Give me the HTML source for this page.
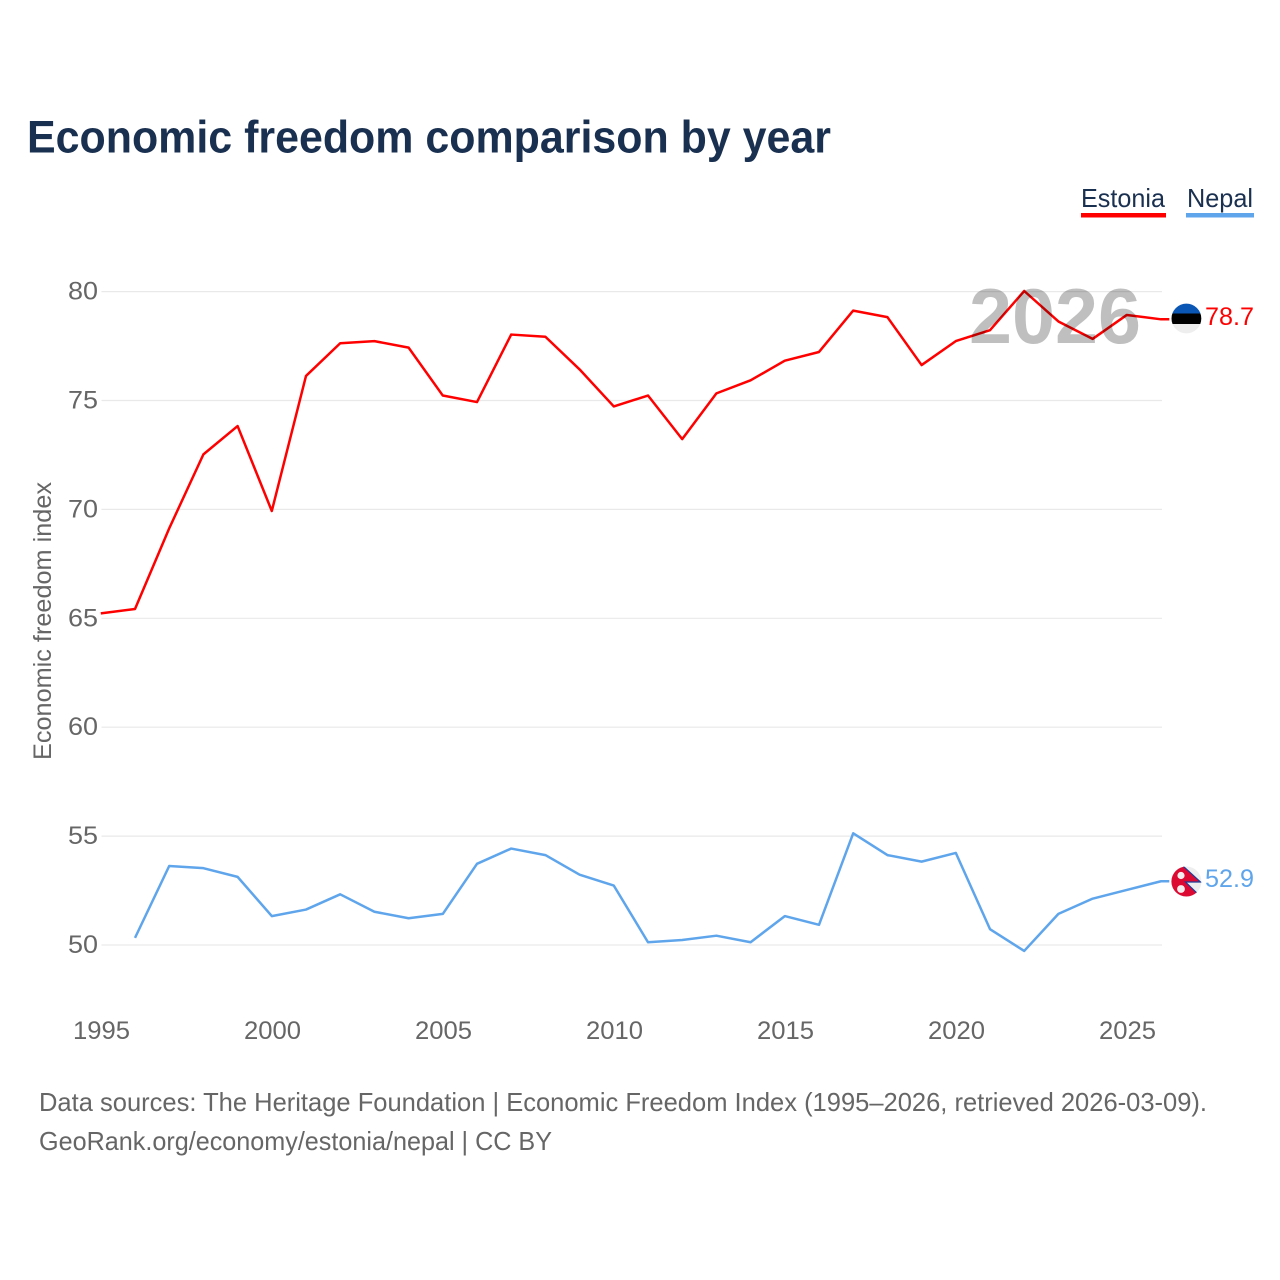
<!DOCTYPE html>
<html lang="en">
<head>
<meta charset="utf-8">
<title>Economic freedom comparison by year</title>
<style>
html,body{margin:0;padding:0;background:#fff;width:1280px;height:1280px;overflow:hidden}
svg{display:block}
text{font-family:"Liberation Sans",sans-serif}
</style>
</head>
<body>
<svg id="chart" xmlns="http://www.w3.org/2000/svg" width="1280" height="1280" viewBox="0 0 1280 1280">
  <rect width="1280" height="1280" fill="#fff"/>
  <text x="27" y="152.5" font-size="45" font-weight="700" fill="#1a3050" textLength="804" lengthAdjust="spacingAndGlyphs">Economic freedom comparison by year</text>

  <g>
    <text x="1081" y="207" font-size="26" fill="#1a3050" textLength="84" lengthAdjust="spacingAndGlyphs">Estonia</text>
    <rect x="1081" y="213" width="85" height="4.5" fill="#ff0000"/>
  </g>
  <g>
    <text x="1187" y="207" font-size="26" fill="#1a3050" textLength="66" lengthAdjust="spacingAndGlyphs">Nepal</text>
    <rect x="1186" y="213" width="68" height="4.5" fill="#5fa5ec"/>
  </g>

  <g id="grid"></g>
  <g id="yticks"></g>
  <g id="xticks"></g>
  <text transform="translate(51,621) rotate(-90)" text-anchor="middle" font-size="25" fill="#666" textLength="278" lengthAdjust="spacingAndGlyphs">Economic freedom index</text>

  <g id="series" transform="translate(-0.7,-0.6)"></g>

  <text x="969" y="343" font-size="78" font-weight="700" fill="#000" fill-opacity="0.25" textLength="172" lengthAdjust="spacingAndGlyphs">2026</text>

  <defs>
    <clipPath id="clip-ee"><circle cx="1186.4" cy="318.5" r="14.9"/></clipPath>
    <clipPath id="clip-np"><circle cx="1186.4" cy="881.5" r="15"/></clipPath>
  </defs>
  <g clip-path="url(#clip-ee)">
    <rect x="1170" y="302" width="33" height="33" fill="#eeeeee"/>
    <rect x="1170" y="302" width="33" height="11.5" fill="#0a56b4"/>
    <rect x="1170" y="313.5" width="33" height="10.5" fill="#000"/>
  </g>
  <g clip-path="url(#clip-np)">
    <rect x="1170" y="865" width="33" height="33" fill="#eeeeee"/>
    <polygon points="1165,860 1176.4,860 1200.5,882 1185.5,882 1203,899 1165,899" fill="#dc0a32" stroke="#1e3c96" stroke-width="1.2"/>
    <circle cx="1181" cy="875.5" r="3.6" fill="#f5eeee"/>
    <circle cx="1181" cy="889" r="3.9" fill="#f5eeee"/>
  </g>

  <g id="endlabels"></g>

  <text x="39" y="1111" font-size="26" fill="#666" textLength="1168" lengthAdjust="spacingAndGlyphs">Data sources: The Heritage Foundation | Economic Freedom Index (1995–2026, retrieved 2026-03-09).</text>
  <text x="39" y="1150" font-size="26" fill="#666" textLength="513" lengthAdjust="spacingAndGlyphs">GeoRank.org/economy/estonia/nepal | CC BY</text>
</svg>
<script>
const years = [1995,1996,1997,1998,1999,2000,2001,2002,2003,2004,2005,2006,2007,2008,2009,2010,2011,2012,2013,2014,2015,2016,2017,2018,2019,2020,2021,2022,2023,2024,2025,2026];
const estoniaValues = [65.2,65.4,69.1,72.5,73.8,69.9,76.1,77.6,77.7,77.4,75.2,74.9,78.0,77.9,76.4,74.7,75.2,73.2,75.3,75.9,76.8,77.2,79.1,78.8,76.6,77.7,78.2,80.0,78.6,77.8,78.9,78.7];
const nepalValues = [null,50.3,53.6,53.5,53.1,51.3,51.6,52.3,51.5,51.2,51.4,53.7,54.4,54.1,53.2,52.7,50.1,50.2,50.4,50.1,51.3,50.9,55.1,54.1,53.8,54.2,50.7,49.7,51.4,52.1,52.5,52.9];
const yTickValues = [50,55,60,65,70,75,80];
const xTickValues = [1995,2000,2005,2010,2015,2020,2025];

const SVG_NS = 'http://www.w3.org/2000/svg';
const xScale = function (year) { return 101.5 + (year - 1995) * 34.2; };
const yScale = function (value) { return 945 - (value - 50) * 21.78; };

function make(tag, attrs, parent, content) {
  const el = document.createElementNS(SVG_NS, tag);
  Object.keys(attrs).forEach(function (k) { el.setAttribute(k, attrs[k]); });
  if (content !== undefined) el.textContent = content;
  parent.appendChild(el);
  return el;
}

const gridGroup = document.getElementById('grid');
const yTickGroup = document.getElementById('yticks');
const xTickGroup = document.getElementById('xticks');
const seriesGroup = document.getElementById('series');
const endGroup = document.getElementById('endlabels');

yTickValues.forEach(function (v) {
  const line = make('line', {x1: 101.5, x2: 1162, y1: yScale(v), y2: yScale(v), stroke: '#e9e9e9', 'stroke-width': 1.2}, gridGroup);
  
  
  const label = String(v);
  const t = make('text', {x: 98, y: yScale(v) + 8, 'text-anchor': 'end', 'font-size': 25, fill: '#666', textLength: label.length * 15, lengthAdjust: 'spacingAndGlyphs'}, yTickGroup, label);
  
  
});

xTickValues.forEach(function (y) {
  const label = String(y);
  const t = make('text', {x: xScale(y), y: 1039, 'text-anchor': 'middle', 'font-size': 25, fill: '#666', textLength: label.length * 14.25, lengthAdjust: 'spacingAndGlyphs'}, xTickGroup, label);
  
  
});

function linePoints(values) {
  const pts = [];
  values.forEach(function (v, i) {
    if (v !== null) pts.push(xScale(years[i]).toFixed(2) + ',' + yScale(v).toFixed(2));
  });
  return pts;
}

function lastValue(values) {
  return values[values.length - 1];
}

const estoniaPts = linePoints(estoniaValues);
estoniaPts.push('1170,' + yScale(lastValue(estoniaValues)).toFixed(2));
const estoniaLine = make('polyline', {points: estoniaPts.join(' '), fill: 'none', stroke: '#ff0000', 'stroke-width': 2.5, 'stroke-linejoin': 'round'}, seriesGroup);



const nepalPts = linePoints(nepalValues);
nepalPts.push('1170,' + yScale(lastValue(nepalValues)).toFixed(2));
const nepalLine = make('polyline', {points: nepalPts.join(' '), fill: 'none', stroke: '#5fa5ec', 'stroke-width': 2.5, 'stroke-linejoin': 'round'}, seriesGroup);



const estoniaEnd = make('text', {x: 1205, y: yScale(lastValue(estoniaValues)) + 5, 'font-size': 25, fill: '#ff0000', textLength: 49, lengthAdjust: 'spacingAndGlyphs'}, endGroup, lastValue(estoniaValues).toFixed(1));



const nepalEnd = make('text', {x: 1205, y: yScale(lastValue(nepalValues)) + 5, 'font-size': 25, fill: '#5fa5ec', textLength: 49, lengthAdjust: 'spacingAndGlyphs'}, endGroup, lastValue(nepalValues).toFixed(1));


</script>
</body>
</html>
